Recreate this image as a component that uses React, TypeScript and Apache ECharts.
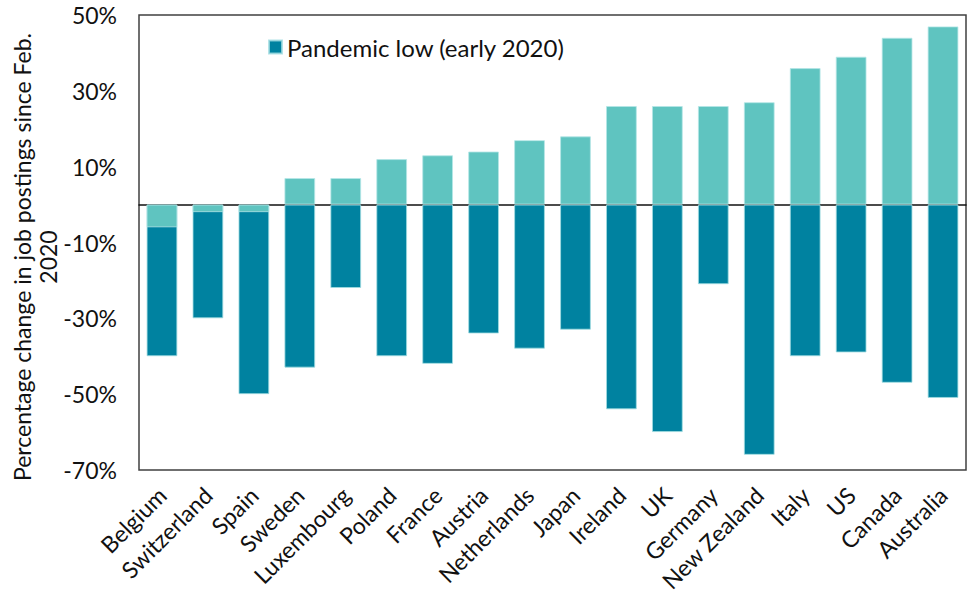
import React, { useEffect, useRef } from "react";
import * as echarts from "echarts";

const countries = ["Belgium", "Switzerland", "Spain", "Sweden", "Luxembourg", "Poland", "France", "Austria", "Netherlands", "Japan", "Ireland", "UK", "Germany", "New Zealand", "Italy", "US", "Canada", "Australia"];
const pandemicLow = [-40, -30, -50, -43, -22, -40, -42, -34, -38, -33, -54, -60, -21, -66, -40, -39, -47, -51];
const latest = [-6, -2, -2, 7, 7, 12, 13, 14, 17, 18, 26, 26, 26, 27, 36, 39, 44, 47];
const yTicks = [-70, -50, -30, -10, 10, 30, 50];

const FONT = "Lato";

export default function App() {
  const ref = useRef<HTMLDivElement>(null);
  useEffect(() => {
    if (!ref.current) return;
    const chart = echarts.init(ref.current, null, { renderer: "svg" });
    chart.setOption({
      animation: false,
      textStyle: { fontFamily: FONT },
      grid: {
        left: 139, right: 4, top: 15, bottom: 132,
        show: true, borderColor: "#404040", borderWidth: 1.5, containLabel: false,
      },
      legend: {
        data: ["Pandemic low (early 2020)"],
        left: 263, top: 30, itemWidth: 13, itemHeight: 13, itemGap: 10, padding: 5,
        icon: "rect",
        textStyle: { fontFamily: FONT, fontSize: 24, color: "#111", padding: [0, 0, 0, 0] },
      },
      graphic: [
        {
          type: "text",
          x: 35, y: 257, rotation: Math.PI / 2,
          style: {
            text: "Percentage change in job postings since Feb.\n2020",
            fontFamily: FONT, fontSize: 23, fill: "#111",
            align: "center", verticalAlign: "middle", lineHeight: 26,
          },
        },
      ],
      xAxis: {
        type: "category",
        data: countries,
        axisLine: { onZero: true, lineStyle: { color: "#111", width: 1.5 } },
        axisTick: { show: false },
        axisLabel: {
          interval: 0, rotate: 45, margin: 21, fontFamily: FONT, fontSize: 23, color: "#111",
        },
      },
      yAxis: {
        type: "value",
        min: -70, max: 50,
        splitLine: { show: false },
        axisLine: { show: false },
        axisTick: { show: false },
        axisLabel: {
          customValues: yTicks,
          formatter: (v: number) => `${v}%`,
          fontFamily: FONT, fontSize: 23, color: "#111", margin: 22,
        },
      },
      series: [
        {
          name: "Pandemic low (early 2020)",
          type: "bar",
          data: pandemicLow,
          barWidth: "67%",
          barGap: "-100%",
          itemStyle: { color: "#0082A0", borderColor: "rgba(160,220,225,0.8)", borderWidth: 1 },
        },
        {
          name: "Latest",
          type: "bar",
          data: latest,
          barWidth: "67%",
          barGap: "-100%",
          itemStyle: { color: "#5FC4C0", borderColor: "rgba(180,230,230,0.8)", borderWidth: 1 },
        },
      ],
    });
    return () => chart.dispose();
  }, []);
  return <div ref={ref} style={{ width: 970, height: 602, position: "absolute", left: 0, top: 0 }} />;
}
